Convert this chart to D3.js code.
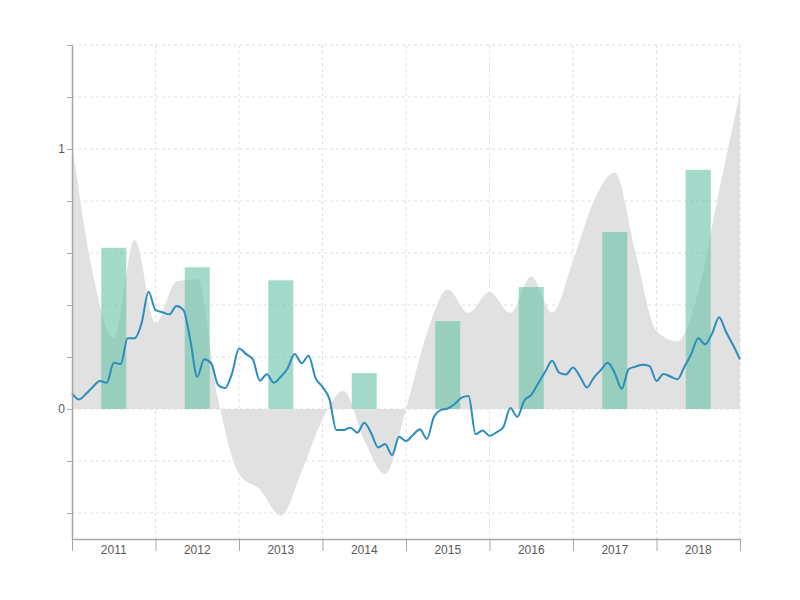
<!DOCTYPE html>
<html>
<head>
<meta charset="utf-8">
<script src="https://cdn.jsdelivr.net/npm/d3@7"></script>
<style>
	body { margin: 0; background: #fff; }
	svg { font-family: Roboto, "Noto Sans", sans-serif; }
	.grid line { stroke: #dedede; stroke-dasharray: 3,3; }
	.axis path, .axis line { stroke: #a6a6a6; }
	.axis text { fill: #595959; font-size: 12px; }
</style>
</head>
<body>
<svg id="chart" width="800" height="600"></svg>
<script>
// Year categories on the x axis.
const years = ["2011", "2012", "2013", "2014", "2015", "2016", "2017", "2018"];

// One bar per year.
const barValues = [0.62, 0.545, 0.495, 0.138, 0.338, 0.469, 0.681, 0.92];

// Grey area, one value per quarter from 2011 Q1 to 2019 Q1.
const areaValues = [
	1.02, 0.52, 0.27, 0.65, 0.33, 0.49, 0.50, 0.04,
	-0.25, -0.31, -0.41, -0.24, -0.04, 0.07, -0.12, -0.25,
	0.0, 0.29, 0.46, 0.37, 0.45, 0.37, 0.51, 0.37,
	0.57, 0.80, 0.91, 0.60, 0.30, 0.26, 0.45, 0.84,
	1.215
];

// Blue line, one value per month from Jan 2011 to Jan 2019.
const lineValues = [
	0.060, 0.037, 0.058, 0.085, 0.108, 0.101, 0.178, 0.173, 0.272, 0.272, 0.330, 0.451,
	0.381, 0.372, 0.364, 0.396, 0.381, 0.265, 0.124, 0.191, 0.176, 0.092, 0.080, 0.137,
	0.233, 0.212, 0.190, 0.109, 0.134, 0.101, 0.124, 0.157, 0.212, 0.176, 0.205, 0.119,
	0.085, 0.038, -0.081, -0.081, -0.072, -0.091, -0.053, -0.093, -0.148, -0.135, -0.177, -0.107,
	-0.123, -0.100, -0.078, -0.115, -0.031, -0.004, 0.002, 0.019, 0.044, 0.050, -0.097, -0.083,
	-0.103, -0.090, -0.069, 0.004, -0.030, 0.033, 0.054, 0.099, 0.143, 0.186, 0.140, 0.133,
	0.160, 0.125, 0.083, 0.121, 0.150, 0.178, 0.138, 0.078, 0.153, 0.163, 0.170, 0.165,
	0.108, 0.135, 0.125, 0.114, 0.162, 0.212, 0.272, 0.249, 0.291, 0.353, 0.296, 0.246,
	0.191
];

// y ticks: every 0.2, only 0 and 1 carry a label.
const yTicks = [-0.4, -0.2, 0, 0.2, 0.4, 0.6, 0.8, 1, 1.2, 1.4];
const yLabels = [0, 1];

const margin = {left: 72, right: 60, top: 45, bottom: 61};
const width = 800, height = 600;

let svg = d3.select("#chart");

// Continuous time scale (fractional years) and a band scale for the year labels.
let x = d3.scaleLinear()
	.domain([2011, 2019])
	.range([margin.left, width - margin.right]);

let xBand = d3.scaleBand()
	.domain(years)
	.range([margin.left, width - margin.right]);

// Bars sit in the middle 30% of each year.
let xBar = d3.scaleBand()
	.domain(years)
	.range([margin.left, width - margin.right])
	.paddingInner(0.7)
	.paddingOuter(0.35);

let y = d3.scaleLinear()
	.domain([-0.5, 1.4])
	.range([height - margin.bottom, margin.top]);

// Grid lines first.
let grid = svg.append("g").attr("class", "grid");
grid.selectAll(".h")
	.data(yTicks)
	.enter().append("line")
	.attr("x1", x(2011))
	.attr("x2", x(2019))
	.attr("y1", d => y(d))
	.attr("y2", d => y(d));

grid.selectAll(".v")
	.data(d3.range(2012, 2020))
	.enter().append("line")
	.attr("x1", d => x(d))
	.attr("x2", d => x(d))
	.attr("y1", y(1.4))
	.attr("y2", y(-0.5));

// Grey area from the zero line.
let areaData = areaValues.map((v, i) => ({t: 2011 + i / 4, value: v}));
svg.append("path")
	.datum(areaData)
	.attr("fill", "#e1e1e1")
	.attr("d", d3.area()
		.curve(d3.curveMonotoneX)
		.x(d => x(d.t))
		.y0(y(0))
		.y1(d => y(d.value)));

// Bars.
svg.selectAll(".bar")
	.data(years)
	.enter().append("rect")
	.attr("class", "bar")
	.attr("x", d => xBar(d))
	.attr("width", xBar.bandwidth())
	.attr("y", (d, i) => y(barValues[i]))
	.attr("height", (d, i) => y(0) - y(barValues[i]))
	.attr("fill", "#66c2a5")
	.attr("fill-opacity", 0.6);

// Line.
let lineData = lineValues.map((v, i) => ({t: 2011 + i / 12, value: v}));
svg.append("path")
	.datum(lineData)
	.attr("fill", "none")
	.attr("stroke", "#2b8cbe")
	.attr("stroke-width", 2)
	.attr("stroke-linejoin", "round")
	.attr("d", d3.line()
		.curve(d3.curveMonotoneX)
		.x(d => x(d.t))
		.y(d => y(d.value)));

// Left axis.
svg.append("g")
	.attr("class", "axis")
	.attr("transform", "translate(" + margin.left + ",0)")
	.call(d3.axisLeft(y)
		.tickValues(yTicks)
		.tickSize(5)
		.tickPadding(2)
		.tickSizeOuter(0)
		.tickFormat(d => yLabels.includes(d) ? d3.format("d")(d) : ""))
	.call(g => g.select(".domain").attr("stroke-width", 1.5));

// Bottom axis: ticks at year boundaries, labels centred in each year.
svg.append("g")
	.attr("class", "axis")
	.attr("transform", "translate(0," + y(-0.5) + ")")
	.call(d3.axisBottom(x)
		.tickValues(d3.range(2011, 2020))
		.tickSize(12)
		.tickSizeOuter(0)
		.tickFormat(""))
	.call(g => g.select(".domain").attr("stroke-width", 1.5));

svg.append("g")
	.attr("class", "axis")
	.attr("transform", "translate(0," + y(-0.5) + ")")
	.call(d3.axisBottom(xBand).tickSize(0).tickPadding(6))
	.call(g => g.select(".domain").remove());
</script>
</body>
</html>
